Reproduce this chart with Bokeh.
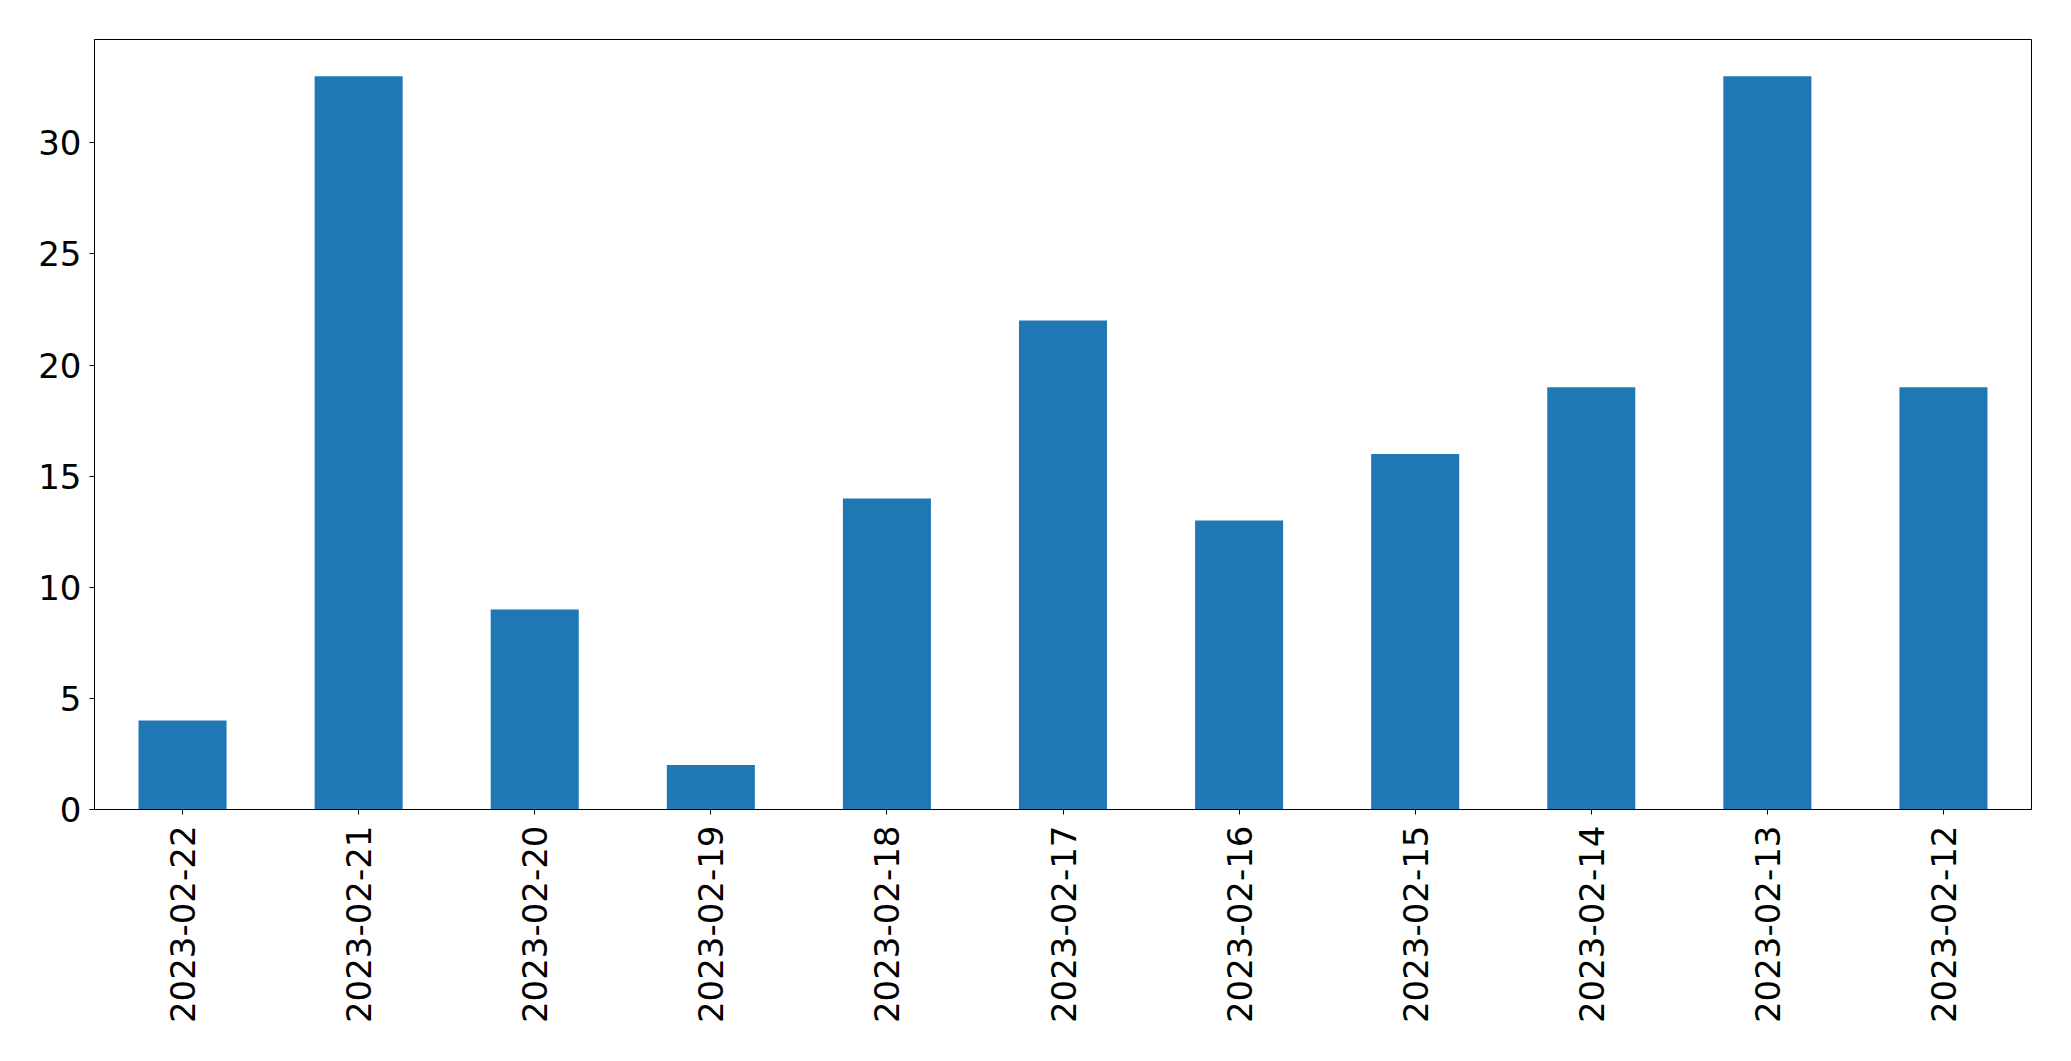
import math
from bokeh.plotting import figure
from bokeh.models import ColumnDataSource, Range1d, FixedTicker
from bokeh.embed import file_html
from bokeh.resources import INLINE

dates = ["2023-02-22", "2023-02-21", "2023-02-20", "2023-02-19", "2023-02-18",
         "2023-02-17", "2023-02-16", "2023-02-15", "2023-02-14", "2023-02-13",
         "2023-02-12"]
counts = [4, 33, 9, 2, 14, 22, 13, 16, 19, 33, 19]
y_ticks = [0, 5, 10, 15, 20, 25, 30]

source = ColumnDataSource(data=dict(date=dates, count=counts))

p = figure(x_range=dates, y_range=Range1d(0, max(counts) * 1.05),
           width=2063, height=1053, output_backend="svg", toolbar_location=None,
           min_border_left=94, min_border_right=32, min_border_top=39,
           min_border_bottom=244)

p.vbar(x="date", top="count", width=0.5, source=source,
       fill_color="#1f77b4", line_color=None)

p.xgrid.grid_line_color = None
p.ygrid.grid_line_color = None
p.outline_line_color = "black"
p.outline_line_alpha = 1.0
p.outline_line_width = 1

for ax in (p.xaxis[0], p.yaxis[0]):
    ax.axis_line_color = "black"
    ax.major_tick_line_color = "black"
    ax.major_tick_out = 5
    ax.major_tick_in = 0
    ax.minor_tick_line_color = None
    ax.major_label_text_font = "DejaVu Sans"
    ax.major_label_text_font_size = "34px"
    ax.major_label_text_color = "black"

p.yaxis.ticker = FixedTicker(ticks=y_ticks)
p.yaxis.major_label_standoff = 8
p.xaxis.major_label_orientation = math.pi / 2
p.xaxis.major_label_standoff = 11

open("out.html", "w").write(file_html(p, INLINE))
